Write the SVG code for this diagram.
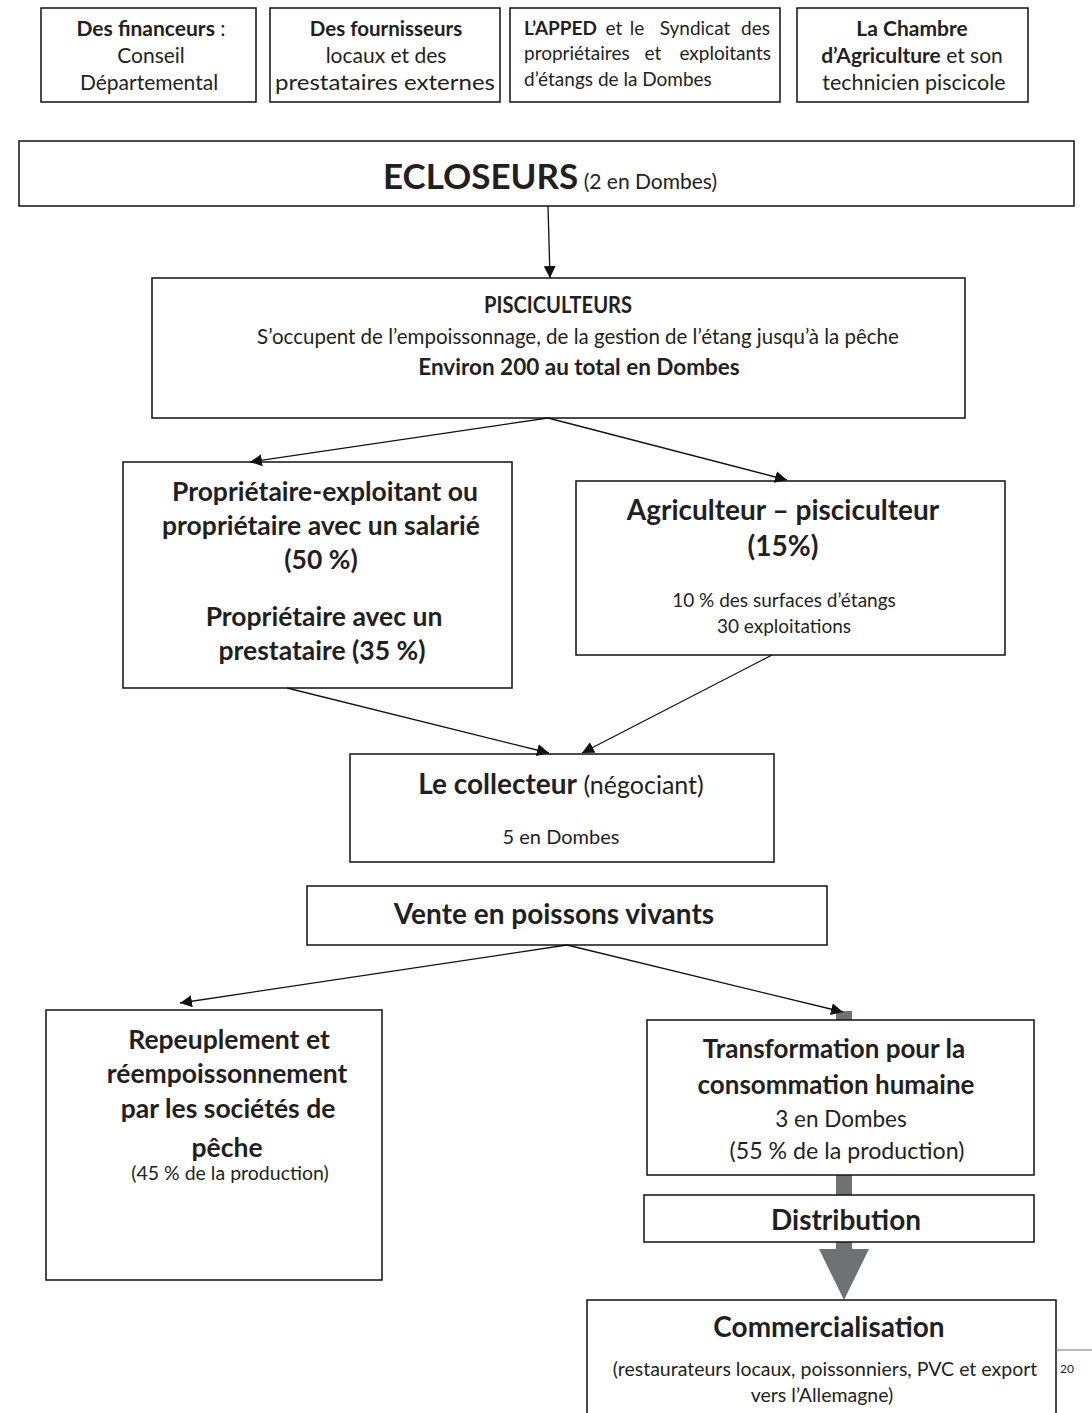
<svg xmlns="http://www.w3.org/2000/svg" width="1092" height="1413" viewBox="0 0 1092 1413">
<style>
text{font-family:Lato,"Open Sans","Liberation Sans",sans-serif;fill:#231f20;text-anchor:middle}
.b{font-weight:bold}
.s{text-anchor:start}
.e{text-anchor:end}
.box{fill:#fff;stroke:#111;stroke-width:1.5}
.ln{stroke:#111;stroke-width:1.3;fill:none;marker-end:url(#ah)}
.g{fill:#6d7272}
</style>
<defs>
<marker id="ah" viewBox="0 0 10 10" refX="10" refY="5" markerWidth="12" markerHeight="12" markerUnits="userSpaceOnUse" orient="auto">
<path d="M0,0 L10,5 L0,10 z" fill="#111"/>
</marker>
</defs>
<rect width="1092" height="1413" fill="#fff"/>

<g id="financeurs">
<rect class="box" x="41" y="8" width="215" height="94"/>
<text x="151" y="36" font-size="21"><tspan class="b">Des financeurs</tspan> :</text>
<text x="151" y="63" font-size="21">Conseil</text>
<text x="149" y="90" font-size="21">Départemental</text>
</g>
<g id="fournisseurs">
<rect class="box" x="270" y="8" width="230" height="94"/>
<text x="386" y="36" font-size="20.5" class="b">Des fournisseurs</text>
<text x="386" y="63" font-size="21">locaux et des</text>
<text x="385" y="90" font-size="21" textLength="220" lengthAdjust="spacingAndGlyphs">prestataires externes</text>
</g>
<g id="apped">
<rect class="box" x="510" y="8" width="270" height="94"/>
<text x="524" y="35" font-size="19" class="s b">L’APPED</text>
<text x="614" y="35" font-size="19">et</text>
<text x="637" y="35" font-size="19">le</text>
<text x="695" y="35" font-size="19">Syndicat</text>
<text x="770" y="35" font-size="19" class="e">des</text>
<text x="524" y="60" font-size="19" class="s">propriétaires</text>
<text x="653" y="60" font-size="19">et</text>
<text x="771" y="60" font-size="19" class="e">exploitants</text>
<text x="524" y="86" font-size="19" class="s">d’étangs de la Dombes</text>
</g>
<g id="chambre">
<rect class="box" x="797" y="8" width="231" height="94"/>
<text x="912" y="36" font-size="21" class="b">La Chambre</text>
<text x="912" y="63" font-size="21"><tspan class="b">d’Agriculture</tspan> et son</text>
<text x="914" y="90" font-size="21.5">technicien piscicole</text>
</g>

<g id="ecloseurs">
<rect class="box" x="19" y="141" width="1055" height="65"/>
<text x="550" y="189"><tspan class="b" font-size="35">ECLOSEURS</tspan><tspan font-size="21"> (2 en Dombes)</tspan></text>
</g>

<g id="pisciculteurs">
<rect class="box" x="152" y="278" width="813" height="140"/>
<text x="558" y="313" font-size="23" class="b" textLength="148" lengthAdjust="spacingAndGlyphs">PISCICULTEURS</text>
<text x="578" y="344" font-size="20.5">S’occupent de l’empoissonnage, de la gestion de l’étang jusqu’à la pêche</text>
<text x="579" y="375" font-size="22.5" class="b">Environ 200 au total en Dombes</text>
</g>

<g id="proprietaire">
<rect class="box" x="123" y="462" width="389" height="226"/>
<text x="325" y="501" font-size="26.5" class="b">Propriétaire-exploitant ou</text>
<text x="321" y="535" font-size="26.5" class="b">propriétaire avec un salarié</text>
<text x="321" y="569" font-size="26.5" class="b">(50 %)</text>
<text x="324" y="626" font-size="26.5" class="b">Propriétaire avec un</text>
<text x="322" y="660" font-size="26.5" class="b">prestataire (35 %)</text>
</g>

<g id="agriculteur">
<rect class="box" x="576" y="481" width="429" height="174"/>
<text x="783" y="520" font-size="28" class="b">Agriculteur – pisciculteur</text>
<text x="783" y="556" font-size="28" class="b">(15%)</text>
<text x="784" y="607" font-size="19">10 % des surfaces d’étangs</text>
<text x="784" y="633" font-size="19">30 exploitations</text>
</g>

<g id="collecteur">
<rect class="box" x="350" y="754" width="424" height="108"/>
<text x="561" y="794"><tspan class="b" font-size="28">Le collecteur</tspan><tspan font-size="25"> (négociant)</tspan></text>
<text x="561" y="844" font-size="20">5 en Dombes</text>
</g>

<g id="vente">
<rect class="box" x="307" y="886" width="520" height="59"/>
<text x="554" y="924" font-size="28" class="b">Vente en poissons vivants</text>
</g>

<g id="repeuplement">
<rect class="box" x="46" y="1010" width="336" height="270"/>
<text x="229" y="1049" font-size="26.5" class="b">Repeuplement et</text>
<text x="227" y="1083" font-size="26.5" class="b">réempoissonnement</text>
<text x="228" y="1118" font-size="26.5" class="b">par les sociétés de</text>
<text x="227" y="1157" font-size="26.5" class="b">pêche</text>
<text x="230" y="1180" font-size="19.5">(45 % de la production)</text>
</g>

<g id="arrows-grey">
<rect class="g" x="836" y="1011" width="16" height="12"/>
<rect class="g" x="836" y="1175" width="16" height="21"/>
<rect class="g" x="836" y="1242" width="16" height="8"/>
<path class="g" d="M819,1249 L869,1249 L844,1300 z"/>
</g>

<g id="transformation">
<rect class="box" x="647" y="1020" width="387" height="155"/>
<text x="834" y="1058" font-size="26" class="b">Transformation pour la</text>
<text x="836" y="1094" font-size="26" class="b">consommation humaine</text>
<text x="841" y="1127" font-size="22.5">3 en Dombes</text>
<text x="847" y="1159" font-size="23.2">(55 % de la production)</text>
</g>

<g id="distribution">
<rect class="box" x="644" y="1195" width="390" height="47"/>
<text x="846" y="1230" font-size="28" class="b">Distribution</text>
</g>

<g id="commercialisation">
<rect class="box" x="587" y="1300" width="469" height="130"/>
<text x="829" y="1337" font-size="28" class="b">Commercialisation</text>
<text x="825" y="1376" font-size="19.5">(restaurateurs locaux, poissonniers, PVC et export</text>
<text x="822" y="1402" font-size="19.5">vers l’Allemagne)</text>
</g>

<g id="connectors">
<line class="ln" x1="548" y1="206" x2="550" y2="278"/>
<line class="ln" x1="548" y1="418" x2="250" y2="462"/>
<line class="ln" x1="548" y1="418" x2="787" y2="480"/>
<line class="ln" x1="287" y1="688" x2="549" y2="753"/>
<line class="ln" x1="772" y1="655" x2="582" y2="753"/>
<line class="ln" x1="567" y1="945" x2="180" y2="1003"/>
<line class="ln" x1="567" y1="945" x2="843" y2="1012"/>
</g>

<g id="footer">
<line x1="1056" y1="1350" x2="1092" y2="1350" stroke="#777" stroke-width="1"/>
<text x="1060" y="1373" font-size="12" class="s">20</text>
</g>
</svg>
